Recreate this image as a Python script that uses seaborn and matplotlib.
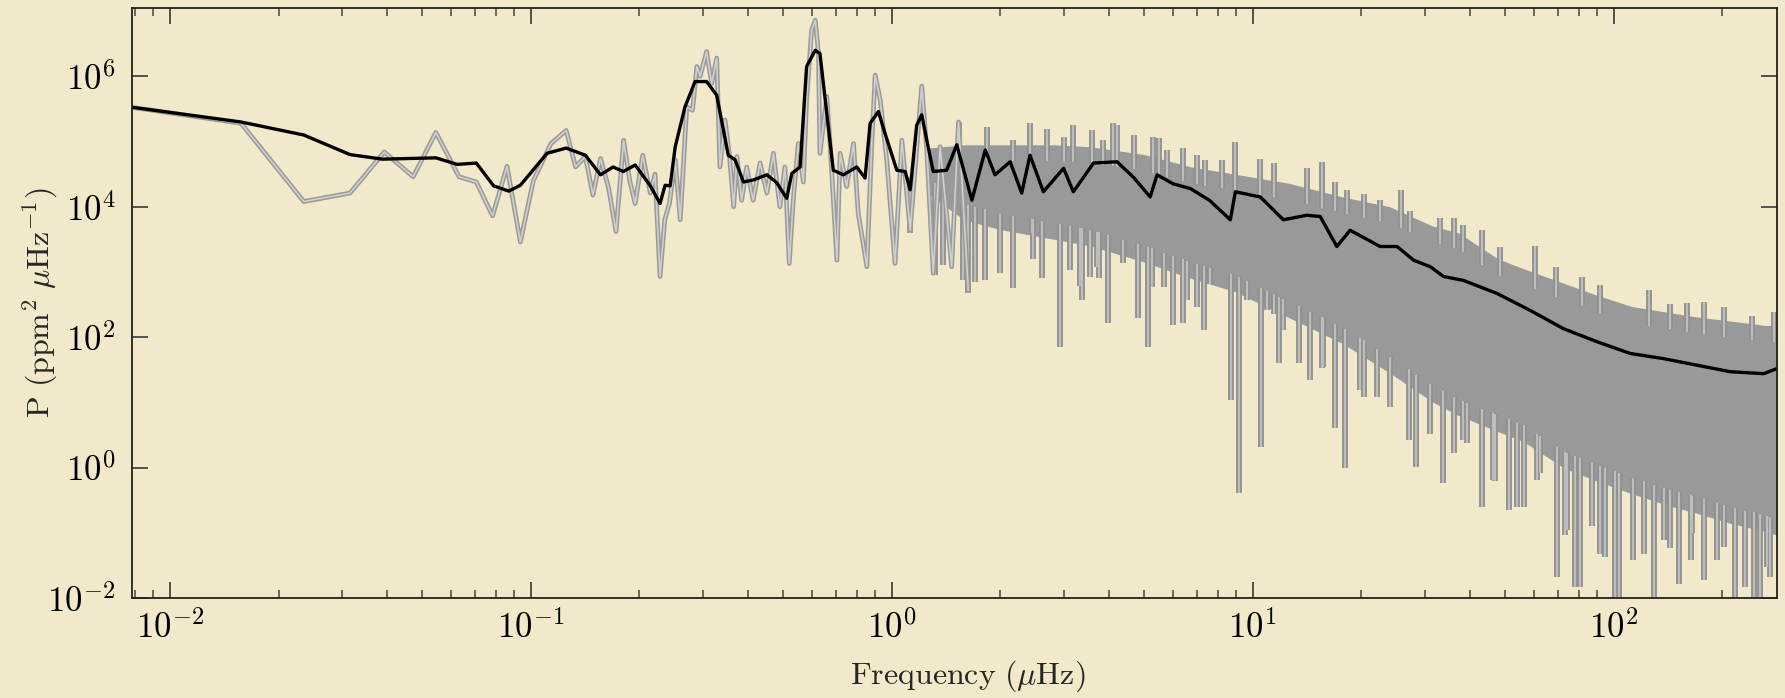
import numpy as np
import pandas as pd
import seaborn as sns
import matplotlib
matplotlib.use("Agg")
import matplotlib.pyplot as plt
import matplotlib.patheffects as pe
from matplotlib.ticker import LogLocator, FuncFormatter, NullLocator

# ---------------- data (values are log10 of frequency [uHz] and power) -------------
black_logf = [-2.111, -1.803, -1.629, -1.501, -1.411, -1.263, -1.204, -1.151, -1.103, -1.061, -1.029,
              -0.955, -0.902, -0.849, -0.807, -0.772, -0.744, -0.711, -0.670, -0.642, -0.628, -0.614,
              -0.600, -0.573, -0.545, -0.513, -0.485, -0.453, -0.434, -0.411, -0.384, -0.346, -0.319,
              -0.291, -0.277, -0.254, -0.236, -0.212, -0.199, -0.180, -0.162, -0.134, -0.097, -0.074,
              -0.060, -0.037, -0.019, 0.014, 0.037, 0.051, 0.069, 0.083, 0.097, 0.115, 0.152, 0.180,
              0.222, 0.259, 0.286, 0.328, 0.360, 0.383, 0.420, 0.476, 0.503, 0.559, 0.624, 0.670,
              0.716, 0.735, 0.780, 0.827, 0.880, 0.938, 0.952, 1.021, 1.085, 1.150, 1.187, 1.233,
              1.270, 1.353, 1.400, 1.446, 1.492, 1.529, 1.584, 1.677, 1.769, 1.861, 1.954, 2.046,
              2.139, 2.231, 2.323, 2.416, 2.453]
black_logp = [5.53, 5.30, 5.10, 4.80, 4.73, 4.75, 4.65, 4.67, 4.32, 4.24, 4.33,
              4.82, 4.90, 4.79, 4.49, 4.61, 4.54, 4.64, 4.33, 4.05, 4.33, 4.32,
              4.92, 5.53, 5.92, 5.92, 5.71, 4.79, 4.72, 4.38, 4.41, 4.49, 4.37,
              4.13, 4.51, 4.61, 6.15, 6.40, 6.35, 5.43, 4.56, 4.49, 4.61, 4.44,
              5.28, 5.46, 5.13, 4.56, 4.54, 4.26, 5.25, 5.41, 5.02, 4.54, 4.56, 4.95,
              4.10, 4.87, 4.49, 4.69, 4.21, 4.79, 4.23, 4.59, 4.23, 4.67, 4.69, 4.45,
              4.15, 4.49, 4.35, 4.28, 4.10, 3.80, 4.23, 4.15, 3.80, 3.87, 3.85, 3.39,
              3.64, 3.39, 3.39, 3.18, 3.08, 2.93, 2.87, 2.67, 2.41, 2.13, 1.93, 1.75,
              1.67, 1.57, 1.47, 1.44, 1.52]

grey_logf = [-2.111, -1.803, -1.629, -1.501, -1.406, -1.326, -1.263, -1.199, -1.151, -1.106, -1.066,
             -1.029, -0.993, -0.944, -0.902, -0.876, -0.849, -0.828, -0.807, -0.785, -0.764, -0.743,
             -0.726, -0.711, -0.690, -0.669, -0.656, -0.642, -0.629, -0.616, -0.600, -0.586, -0.568,
             -0.552, -0.540, -0.531, -0.513, -0.499, -0.485, -0.476, -0.462, -0.450, -0.438, -0.429,
             -0.416, -0.402, -0.384, -0.365, -0.346, -0.328, -0.310, -0.296, -0.284, -0.273, -0.259,
             -0.245, -0.236, -0.222, -0.212, -0.203, -0.199, -0.180, -0.171, -0.152, -0.143, -0.125,
             -0.106, -0.093, -0.069, -0.055, -0.046, -0.032, -0.014, 0.009, 0.028, 0.051, 0.083,
             0.097, 0.115, 0.134, 0.166, 0.185, 0.212]
grey_logp = [5.53, 5.28, 4.08, 4.21, 4.84, 4.46, 5.14, 4.46, 4.38, 3.86, 4.62,
             3.46, 4.40, 4.97, 5.17, 4.61, 4.77, 4.18, 4.74, 4.30, 3.62, 5.02,
             4.40, 4.05, 4.79, 4.21, 4.50, 2.93, 3.80, 4.05, 4.72, 3.80, 5.53,
             5.48, 6.15, 6.00, 6.38, 5.89, 6.28, 4.61, 5.33, 4.80, 4.00, 4.77,
             4.10, 4.61, 4.10, 4.67, 4.21, 4.82, 4.00, 4.61, 3.13, 4.10, 4.97,
             4.38, 5.64, 6.71, 6.86, 6.35, 4.82, 5.69, 4.97, 3.18, 4.82, 4.31,
             4.97, 3.90, 3.08, 5.02, 6.02, 5.64, 4.72, 3.13, 5.02, 3.64, 5.85,
             4.87, 2.98, 4.92, 3.08, 5.30, 2.72]

band_logf = [0.10, 0.20, 0.30, 0.45, 0.55, 0.70, 0.83, 0.95, 1.10, 1.25, 1.38, 1.50,
             1.57, 1.68, 1.75, 1.86, 1.95, 2.05, 2.15, 2.23, 2.32, 2.42, 2.46]
band_top_logp = [4.90, 4.95, 4.95, 4.95, 4.92, 4.80, 4.61, 4.50, 4.36, 4.15, 4.00, 3.70,
                 3.60, 3.20, 3.05, 2.83, 2.65, 2.47, 2.38, 2.31, 2.25, 2.18, 2.18]
band_bot_logp = [4.20, 3.80, 3.65, 3.50, 3.40, 3.15, 2.90, 2.70, 2.30, 1.90, 1.45, 1.00,
                 0.80, 0.55, 0.40, 0.00, -0.20, -0.40, -0.58, -0.70, -0.85, -0.98, -1.05]

up_logf = [0.185, 0.263, 0.337, 0.383, 0.430, 0.476, 0.503, 0.554, 0.586, 0.614, 0.624, 0.670,
           0.725, 0.739, 0.762, 0.808, 0.845, 0.868, 0.915, 0.952, 1.021, 1.058, 1.150, 1.192,
           1.229, 1.262, 1.307, 1.353, 1.411, 1.437, 1.520, 1.557, 1.584, 1.635, 1.686, 1.783,
           1.841, 1.912, 1.963, 2.097, 2.157, 2.203, 2.251, 2.305, 2.384, 2.443]
up_logp = [5.30, 5.23, 5.02, 5.28, 5.20, 5.07, 5.25, 5.18, 5.02, 5.28, 5.25, 5.10,
           5.07, 5.05, 4.87, 4.90, 4.79, 4.72, 4.72, 5.00, 4.73, 4.67, 4.59, 4.69,
           4.38, 4.26, 4.20, 4.10, 4.26, 3.93, 3.82, 3.82, 3.72, 3.64, 3.39, 3.40,
           3.08, 2.93, 2.80, 2.72, 2.51, 2.53, 2.54, 2.47, 2.33, 2.39]

down_logf = [0.051, 0.120, 0.143, 0.198, 0.212, 0.231, 0.259, 0.300, 0.335, 0.388, 0.392, 0.416,
             0.465, 0.494, 0.522, 0.526, 0.550, 0.568, 0.573, 0.600, 0.642, 0.681, 0.709, 0.720,
             0.753, 0.780, 0.808, 0.818, 0.845, 0.864, 0.882, 0.940, 0.963, 0.984, 1.023, 1.039,
             1.058, 1.074, 1.085, 1.127, 1.159, 1.193, 1.196, 1.229, 1.256, 1.298, 1.307, 1.344,
             1.381, 1.432, 1.453, 1.492, 1.527, 1.557, 1.584, 1.594, 1.635, 1.667, 1.672, 1.709,
             1.732, 1.751, 1.788, 1.797, 1.843, 1.866, 1.871, 1.894, 1.908, 1.940, 1.963, 1.977,
             2.005, 2.014, 2.055, 2.083, 2.111, 2.139, 2.157, 2.180, 2.213, 2.217, 2.249, 2.286,
             2.305, 2.337, 2.365, 2.388, 2.406, 2.425, 2.434]
down_logp = [3.59, 2.95, 3.10, 2.88, 2.67, 2.85, 2.88, 2.98, 2.75, 3.59, 3.20, 2.90,
             1.85, 3.03, 2.78, 2.57, 2.93, 3.08, 2.90, 2.21, 3.13, 2.29, 1.85, 2.77,
             2.77, 2.18, 2.21, 2.57, 2.47, 2.11, 2.82, 1.03, -0.39, 2.57, 0.32, 2.41,
             2.36, 1.60, 2.11, 1.60, 1.34, 1.52, 1.55, 0.60, -0.01, 1.19, 1.08, 1.08,
             0.93, 0.42, 0.01, 0.52, -0.24, 0.22, 0.42, 0.37, -0.60, -0.19, -0.20, -0.65,
             -0.60, -0.60, -0.19, -0.09, -1.68, -1.04, -0.96, -1.83, -1.83, -0.90, -1.32, -1.37,
             -2.10, -2.10, -1.42, -1.32, -2.10, -1.11, -1.24, -1.78, -1.42, -1.00, -1.73, -1.42,
             -1.22, -2.10, -1.83, -2.10, -2.10, -1.52, -1.68]

x_ticks = [1e-2, 1e-1, 1e0, 1e1, 1e2]
y_ticks = [1e-2, 1e0, 1e2, 1e4, 1e6]
x_label = r"$\mathrm{Frequency\ (}\mu\mathrm{Hz)}$"
y_label = r"$\mathrm{P\ (ppm^2\ }\mu\mathrm{Hz^{-1})}$"

# ---------------- style -------------
BG = "#F1E9C9"
sns.set_theme(style="ticks")
plt.rcParams.update({
    "font.family": ["DejaVu Serif"],
    "mathtext.fontset": "cm",
    "axes.facecolor": BG,
    "figure.facecolor": BG,
    "axes.edgecolor": "#222222",
    "axes.linewidth": 1.3,
})

fig = plt.figure(figsize=(17.85, 6.98), dpi=100)
ax = fig.add_axes([132 / 1785, 1 - 598 / 698, (1777 - 132) / 1785, (598 - 8) / 698])
ax.set_xscale("log")
ax.set_yscale("log")

p10 = lambda a: 10 ** np.asarray(a, dtype=float)

band_f = p10(band_logf)
ax.fill_between(band_f, p10(band_top_logp), p10(band_bot_logp), color="#999999", lw=0, zorder=1)

spike_fx = [pe.Stroke(linewidth=4.2, foreground="#909090"), pe.Normal()]
top_at_up = np.interp(up_logf, band_logf, band_top_logp) - 0.25
ax.vlines(p10(up_logf), p10(top_at_up), p10(up_logp), colors="#bdbdbd", lw=1.6,
          path_effects=spike_fx, zorder=1.5)
bot_at_down = np.interp(down_logf, band_logf, band_bot_logp) + 0.25
ax.vlines(p10(down_logf), p10(down_logp), p10(bot_at_down), colors="#bdbdbd", lw=1.6,
          path_effects=spike_fx, zorder=1.5)

grey_df = pd.DataFrame({"f": p10(grey_logf), "p": p10(grey_logp)})
sns.lineplot(data=grey_df, x="f", y="p", ax=ax, color="#cfcfcf", lw=1.2, sort=False,
             estimator=None, zorder=2,
             path_effects=[pe.Stroke(linewidth=3.4, foreground="#9a9a9a"), pe.Normal()])

black_df = pd.DataFrame({"f": p10(black_logf), "p": p10(black_logp)})
sns.lineplot(data=black_df, x="f", y="p", ax=ax, color="black", lw=2.4, sort=False,
             estimator=None, zorder=3)

ax.set_xlim(10 ** -2.105, 10 ** 2.4526)
ax.set_ylim(1e-2, 10 ** 7.048)

fmt = FuncFormatter(lambda v, p: r"$10^{%d}$" % int(round(np.log10(v))))
ax.xaxis.set_major_locator(matplotlib.ticker.FixedLocator(x_ticks))
ax.xaxis.set_minor_locator(LogLocator(base=10, subs=np.arange(2, 10), numticks=50))
ax.yaxis.set_major_locator(matplotlib.ticker.FixedLocator(y_ticks))
ax.yaxis.set_minor_locator(NullLocator())
ax.xaxis.set_major_formatter(fmt)
ax.yaxis.set_major_formatter(fmt)
ax.xaxis.set_minor_formatter(matplotlib.ticker.NullFormatter())

ax.tick_params(which="both", direction="in", top=True, right=True, colors="#444444",
               labelcolor="black", labelsize=25)
ax.tick_params(which="major", length=11.5, width=1.3)
ax.tick_params(which="minor", length=5.5, width=1.1)
ax.tick_params(axis="x", pad=9)
ax.tick_params(axis="y", pad=12)

ax.set_xlabel(x_label, fontsize=23)
ax.set_ylabel(y_label, fontsize=23)
ax.xaxis.set_label_coords(0.508, -0.102)
ax.yaxis.set_label_coords(-0.044, 0.5)
for s in ax.spines.values():
    s.set_zorder(5)

fig.savefig("out.png", dpi=100, facecolor=BG)
